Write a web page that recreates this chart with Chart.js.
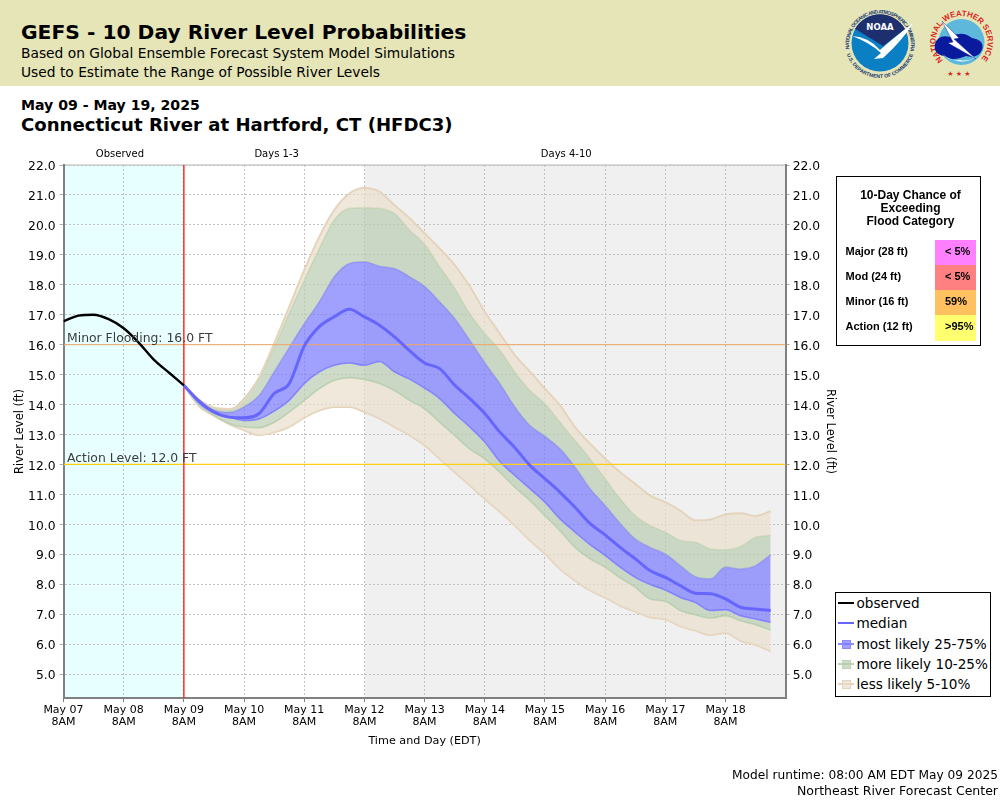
<!DOCTYPE html>
<html><head><meta charset="utf-8">
<script src="https://cdn.jsdelivr.net/npm/chart.js@4"></script>
<style>
html,body{margin:0;padding:0;background:#fff;width:1000px;height:800px;overflow:hidden;font-family:"DejaVu Sans",sans-serif;color:#000}
#c{position:absolute;left:0;top:0}
.t{position:absolute;white-space:nowrap;line-height:1}
#banner{position:absolute;left:0;top:0;width:1000px;height:86px;background:#e5e5b8}
#flood{position:absolute;left:836px;top:176px;width:143px;height:168px;border:1.5px solid #000;background:#fff;font-family:"Liberation Sans",sans-serif;font-weight:bold;box-sizing:content-box}
#flood .h{position:absolute;left:0;width:147px;text-align:center;font-size:12px;line-height:13px;top:11.5px}
#flood .r{position:absolute;left:8.5px;font-size:11px;line-height:25px}
#flood .v{position:absolute;left:98px;width:41px;font-size:11px;line-height:25px;padding-left:0;text-indent:10px}
#legend{position:absolute;left:835px;top:591.5px;width:154px;height:103px;border:1.5px solid #000;background:#fff;font-size:13.6px}
#legend .i{position:absolute;left:20.5px;line-height:16px;white-space:nowrap}
#legend .k{position:absolute;left:2px;width:16px;height:0;border-top:2px solid}
#legend .s{position:absolute;left:6px;width:7px;height:7px;border:1px solid}
</style></head><body>
<div id="banner"></div>
<svg class="t" style="left:840px;top:2px" width="160" height="80" viewBox="0 0 160 80">
  <defs>
    <path id="nr" d="M 9.5 48 A 31 31 0 1 1 70.5 48"/>
    <path id="nb" d="M 5 41 A 35 35 0 0 0 75 41"/>
    <path id="wr" d="M 103.1 58.4 A 26 26 0 1 1 139.9 58.4"/>
  </defs>
  <text font-family="Liberation Sans" font-size="5.1" fill="#223a70" font-weight="bold"><textPath href="#nr" startOffset="1%" textLength="118">NATIONAL OCEANIC AND ATMOSPHERIC ADMINISTRATION</textPath></text>
  <text font-family="Liberation Sans" font-size="5.1" fill="#223a70" font-weight="bold" text-anchor="middle"><textPath href="#nb" startOffset="50%">U.S. DEPARTMENT OF COMMERCE</textPath></text>
  <circle cx="40" cy="41" r="28.5" fill="#0a7fc4"/>
  <path d="M 15 27 A 28.5 28.5 0 0 1 65 27 L 43 44 L 17 28 Z" fill="#1d2f6e"/>
  <path d="M 12 34 Q 29 35 40 48 Q 51 38 73 21 Q 63 38 43 56 L 34 57 L 41 51 Q 29 40 12 34 Z" fill="#fff"/>
  <text x="40" y="28" text-anchor="middle" font-family="DejaVu Sans" font-size="8.5" font-weight="bold" fill="#fff">NOAA</text>
  <text font-family="Liberation Sans" font-size="8" fill="#d9281e" font-weight="bold"><textPath href="#wr" textLength="120">NATIONAL WEATHER SERVICE</textPath></text>
  <circle cx="121.5" cy="40" r="23" fill="#5db8dc"/>
  <path d="M 95 42 Q 98 32 110 35 Q 122 28 132 36 Q 145 38 142 48 Q 138 57 126 54 Q 112 60 104 54 Q 93 52 95 42 Z" fill="#0a1a9c"/>
  <path d="M 102 19 L 119 36 L 114 37 L 136 57 L 108 41 L 113 40 Z" fill="#fff" stroke="#0a1a9c" stroke-width=".4"/>
  <path d="M 102 52 Q 120 66 138 54 Q 128 60 120 58 Q 110 60 102 52 Z" fill="#fff"/>
  <text x="119" y="74" text-anchor="middle" font-size="7" fill="#d9281e">★ ★ ★</text>
</svg>
<div class="t" style="left:21px;top:22px;font-size:20.25px;font-weight:bold">GEFS - 10 Day River Level Probabilities</div>
<div class="t" style="left:21px;top:47px;font-size:13.8px">Based on Global Ensemble Forecast System Model Simulations</div>
<div class="t" style="left:21px;top:66px;font-size:13.8px">Used to Estimate the Range of Possible River Levels</div>
<div class="t" style="left:21px;top:98px;font-size:14.1px;font-weight:bold">May 09 - May 19, 2025</div>
<div class="t" style="left:21px;top:116px;font-size:18.1px;font-weight:bold">Connecticut River at Hartford, CT (HFDC3)</div>
<canvas id="c" width="1000" height="800" style="width:1000px;height:800px"></canvas>
<div id="flood">
  <div class="h">10-Day Chance of<br>Exceeding<br>Flood Category</div>
</div>
<div id="legend"></div>
<div class="t" style="right:2px;top:769px;font-size:12.2px">Model runtime: 08:00 AM EDT May 09 2025</div>
<div class="t" style="right:2px;top:785px;font-size:12.5px">Northeast River Forecast Center</div>
<script>
const tickHours = [0,24,48,72,96,120,144,168,192,216,240,264];
const tickDays = ["May 07","May 08","May 09","May 10","May 11","May 12","May 13","May 14","May 15","May 16","May 17","May 18"];
const tickTime = "8AM";
const yTicks = [5,6,7,8,9,10,11,12,13,14,15,16,17,18,19,20,21,22];
const observedHours = [0,6,12,18,24,30,36,42,48];
const observed = [16.78,16.97,17.0,16.85,16.55,16.07,15.5,15.07,14.64];
const forecastHours = [48,54,60,66,72,78,84,90,96,102,108,114,120,126,132,138,144,150,156,162,168,174,180,186,192,198,204,210,216,222,228,234,240,246,252,258,264,270,276,282];
const median = [14.64,14.12,13.75,13.58,13.56,13.7,14.37,14.7,15.95,16.6,16.93,17.18,16.93,16.65,16.26,15.8,15.39,15.2,14.65,14.2,13.7,13.08,12.56,11.97,11.52,11.07,10.57,10.02,9.65,9.23,8.85,8.45,8.23,7.95,7.7,7.68,7.51,7.23,7.17,7.12];
const p75 = [14.64,14.14,13.82,13.74,13.92,14.3,15.09,15.9,16.7,17.43,18.27,18.71,18.77,18.62,18.54,18.27,17.95,17.43,16.87,16.15,15.4,14.7,13.92,13.3,12.94,12.52,11.91,11.19,10.63,10.03,9.51,9.23,9.01,8.62,8.25,8.18,8.57,8.51,8.62,8.98];
const p25 = [14.64,14.05,13.72,13.58,13.47,13.52,13.78,14.14,14.7,15.09,15.31,15.39,15.31,15.44,15.09,14.85,14.55,14.2,13.7,13.25,12.75,12.1,11.63,11.19,10.74,10.18,9.74,9.32,8.96,8.57,8.23,7.99,7.81,7.56,7.39,7.12,7.15,6.95,6.84,6.73];
const p90 = [14.64,14.16,13.87,13.8,14.2,14.9,15.9,17.05,18.15,19.21,20.16,20.55,20.57,20.55,20.38,19.83,19.35,18.6,17.88,17.04,16.37,15.81,15.09,14.47,14.03,13.41,12.8,12.19,11.52,10.85,10.29,9.96,9.74,9.46,9.4,9.18,9.15,9.26,9.57,9.63];
const p10 = [14.64,14.0,13.64,13.37,13.25,13.23,13.41,13.75,14.14,14.53,14.81,14.9,14.84,14.7,14.47,14.14,13.86,13.41,12.97,12.52,12.19,11.74,11.24,10.8,10.29,9.79,9.23,8.85,8.57,8.21,7.9,7.51,7.43,7.12,6.98,6.87,6.95,6.78,6.65,6.47];
const p95 = [14.64,14.17,13.9,13.85,14.1,14.9,16.04,17.26,18.49,19.6,20.5,21.05,21.23,21.11,20.66,20.22,19.72,19.21,18.66,17.95,17.1,16.37,15.65,15.1,14.53,13.97,13.25,12.69,12.19,11.74,11.35,10.96,10.74,10.46,10.13,10.16,10.33,10.37,10.28,10.44];
const p5 = [14.64,13.95,13.62,13.35,13.14,12.98,13.07,13.25,13.56,13.8,13.92,13.92,13.75,13.53,13.25,12.97,12.63,12.19,11.74,11.3,10.85,10.42,9.96,9.46,9.02,8.51,8.12,7.79,7.55,7.28,7.08,6.89,6.83,6.59,6.45,6.3,6.37,6.11,5.97,5.76];
const xRange = [0,288];
const yRange = [4.2,22];
const minorLevel = 16, actionLevel = 12, nowHour = 48, grayStartHour = 120;
const regionLabels = [["Observed",22.5],["Days 1-3",85],["Days 4-10",200.5]];
const levelLabels = [["Minor Flooding: 16.0 FT",minorLevel],["Action Level: 12.0 FT",actionLevel]];
const floodNames = ["Major (28 ft)","Mod (24 ft)","Minor (16 ft)","Action (12 ft)"];
const floodChances = ["< 5%","< 5%","59%",">95%"];
const floodColors = ["#ff80ff","#ff8080","#ffc060","#ffff70"];
const legendNames = ["observed","median","most likely 25-75%","more likely 10-25%","less likely 5-10%"];

const zip = (xs,ys)=>xs.map((x,i)=>({x,y:ys[i]}));
const TAN="rgba(234,222,204,.7)",GRN="rgba(184,204,176,.7)",BLU="rgba(120,120,255,.7)";
const TANL="#e5d4bc",GRNL="#bdd3b2",BLUL="#8c8cff";
const line=(label,data,color,width,extra)=>Object.assign({label,data,borderColor:color,borderWidth:width,pointRadius:0,tension:0,fill:false},extra||{});
const smooth={cubicInterpolationMode:"monotone"};
const datasets=[
 line("observed",zip(observedHours,observed),"#000",2.4,smooth),
 line("median",zip(forecastHours,median),"#6666ff",3,smooth),
 line("now",zip([nowHour,nowHour],yRange),"#ff2020",1.4),
 line("Minor",zip(xRange,[minorLevel,minorLevel]),"#f0a868",1),
 line("Action",zip(xRange,[actionLevel,actionLevel]),"#ffd010",1.2),
 line("p95",zip(forecastHours,p95),TANL,2,{...smooth,fill:{target:6},backgroundColor:TAN}),
 line("p90",zip(forecastHours,p90),GRNL,1.6,{...smooth,fill:{target:7},backgroundColor:GRN}),
 line("p75",zip(forecastHours,p75),BLUL,1.6,{...smooth,fill:{target:8},backgroundColor:BLU}),
 line("p25",zip(forecastHours,p25),BLUL,1.6,{...smooth,fill:{target:9},backgroundColor:GRN}),
 line("p10",zip(forecastHours,p10),GRNL,1.6,{...smooth,fill:{target:10},backgroundColor:TAN}),
 line("p5",zip(forecastHours,p5),TANL,2,smooth)
];
const shade={id:"shade",
 beforeDraw(ch){const {ctx,chartArea:a,scales:{x}}=ch;ctx.save();
  ctx.fillStyle="#e8ffff";ctx.fillRect(a.left,a.top,x.getPixelForValue(nowHour)-a.left,a.bottom-a.top);
  const g=x.getPixelForValue(grayStartHour);ctx.fillStyle="#f0f0f0";ctx.fillRect(g,a.top,a.right-g,a.bottom-a.top);
  ctx.strokeStyle="#b4b4b4";ctx.lineWidth=1;ctx.beginPath();ctx.moveTo(a.left,a.top);ctx.lineTo(a.right,a.top);ctx.stroke();
  ctx.restore();},
 afterDatasetsDraw(ch){const {ctx,chartArea:a,scales:{x,y}}=ch;ctx.save();
  ctx.fillStyle="#000";ctx.font="10px 'DejaVu Sans'";ctx.textAlign="center";ctx.textBaseline="middle";
  regionLabels.forEach(([t,h])=>ctx.fillText(t,x.getPixelForValue(h),154));
  ctx.fillStyle="#3c3c3c";ctx.font="12.4px 'DejaVu Sans'";ctx.textAlign="left";ctx.textBaseline="alphabetic";
  levelLabels.forEach(([t,v])=>ctx.fillText(t,a.left+3.5,y.getPixelForValue(v)-2.5));
  ctx.restore();}
};
const setTicks=s=>{s.ticks=yTicks.map(value=>({value}))};
const yCommon={type:"linear",min:yRange[0],max:yRange[1],afterBuildTicks:setTicks};
const yTickOpts=pad=>({color:"#000",font:{family:"DejaVu Sans",size:12.3,lineHeight:0.33},padding:pad,callback:v=>["",Number(v).toFixed(1)],autoSkip:false,maxRotation:0});
new Chart(document.getElementById("c"),{type:"line",data:{datasets},plugins:[shade],options:{
 responsive:false,animation:false,events:[],devicePixelRatio:1,
 layout:{padding:{left:13,top:165,right:163,bottom:52.5}},
 plugins:{legend:{display:false},tooltip:{enabled:false},title:{display:false}},
 scales:{
  x:{type:"linear",min:xRange[0],max:xRange[1],
   afterBuildTicks:s=>{s.ticks=tickHours.map(value=>({value}))},
   afterFit:s=>{s.height=49.5},
   grid:{color:"#c2c2c2",tickColor:"#808080",tickLength:4,lineWidth:1},
   border:{display:true,color:"#808080",width:2,dash:[2,2]},
   ticks:{color:"#000",font:{family:"DejaVu Sans",size:11,lineHeight:1.1},padding:2,autoSkip:false,maxRotation:0,
     callback:v=>[tickDays[tickHours.indexOf(v)],tickTime]},
   title:{display:true,text:"Time and Day (EDT)",color:"#000",font:{family:"DejaVu Sans",size:11.2},padding:0}},
  y:Object.assign({},yCommon,{position:"left",
   afterFit:s=>{s.width=50.5},
   ticks:yTickOpts(4),
   grid:{color:"#c2c2c2",tickColor:"#b0b0b0",tickLength:4,lineWidth:1},
   border:{display:true,color:"#808080",width:2,dash:[2,2]},
   title:{display:true,text:"River Level (ft)",color:"#000",font:{family:"DejaVu Sans",size:11.5},padding:0}}),
  y2:Object.assign({},yCommon,{position:"right",
   afterFit:s=>{s.width=51.3},
   ticks:yTickOpts(3),
   grid:{drawOnChartArea:false,color:"#b0b0b0",tickColor:"#b0b0b0",tickLength:4},
   border:{display:true,color:"#808080",width:2},
   title:{display:true,text:"River Level (ft)",color:"#000",font:{family:"DejaVu Sans",size:11.5},padding:0}})
 }
}});
// flood table
const fl=document.getElementById("flood");
floodNames.forEach((n,i)=>{
 const top=62.5+i*25;
 fl.insertAdjacentHTML("beforeend",`<div class="r" style="top:${top-1}px">${n}</div><div class="v" style="top:${top}px;height:${i==3?26:25}px;background:${floodColors[i]}"><span style="position:relative;top:-1px">${floodChances[i].replace("<","&lt;")}</span></div>`);
});
// legend
const lg=document.getElementById("legend");
const swatch=[["#000",0],["#6666ff",0],["#8c8cff","rgba(120,120,255,.7)"],["#bdd3b2","rgba(184,204,176,.7)"],["#e5d4bc","rgba(234,222,204,.7)"]];
legendNames.forEach((n,i)=>{
 const c=10.5+i*20.3;
 let h=`<div class="k" style="top:${c-1}px;border-color:${swatch[i][0]}"></div>`;
 if(swatch[i][1])h+=`<div class="s" style="top:${c-4}px;background:${swatch[i][1]};border-color:${swatch[i][0]}"></div>`;
 h+=`<div class="i" style="top:${c-8}px">${n}</div>`;
 lg.insertAdjacentHTML("beforeend",h);
});
</script>
</body></html>
